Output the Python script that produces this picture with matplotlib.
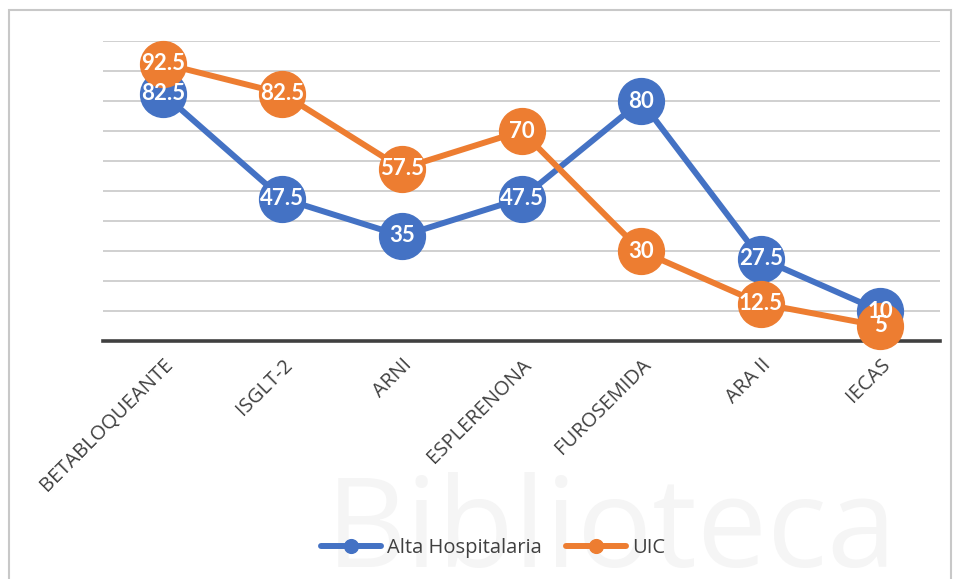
import matplotlib.pyplot as plt
from matplotlib.patches import Rectangle

categories = ['BETABLOQUEANTE', 'ISGLT-2', 'ARNI', 'ESPLERENONA', 'FUROSEMIDA', 'ARA II', 'IECAS']
alta = [82.5, 47.5, 35, 47.5, 80, 27.5, 10]
uic = [92.5, 82.5, 57.5, 70, 30, 12.5, 5]

blue = '#4472C4'
orange = '#ED7D31'

fig = plt.figure(figsize=(9.56, 5.79), dpi=100)
W, H = 956, 579

# outer chart border
fig.patches.append(Rectangle((9 / W, -0.01), (951 - 9) / W, 1 - 10 / H + 0.01,
                             transform=fig.transFigure, fill=False,
                             edgecolor='#c8c8c8', linewidth=1.5, zorder=0))

# faint watermark behind the chart
fig.text(612 / W, 1 - 535 / H, 'Biblioteca', fontsize=90, color='#f5f5f5',
         ha='center', va='center', family='Open Sans', zorder=0)

ax = fig.add_axes([103 / W, 1 - 341 / H, (940 - 103) / W, 300 / H])
ax.patch.set_alpha(0)
x = range(len(categories))

ax.plot(x, alta, color=blue, lw=4.3, marker='o', ms=33, clip_on=False,
        zorder=3, label='Alta Hospitalaria', solid_capstyle='round')
ax.plot(x, uic, color=orange, lw=4.3, marker='o', ms=33, clip_on=False,
        zorder=4, label='UIC', solid_capstyle='round')

for xi, v in zip(x, alta):
    ax.text(xi, v, f'{v:g}', color='white', fontsize=16, fontweight='bold',
            ha='center', va='center', family='Lato', zorder=6)
for xi, v in zip(x, uic):
    ax.text(xi, v, f'{v:g}', color='white', fontsize=16, fontweight='bold',
            ha='center', va='center', family='Lato', zorder=6)

ax.set_xlim(-0.5, len(categories) - 0.5)
ax.set_ylim(0, 100)
ax.set_yticks(range(0, 101, 10))
ax.set_yticklabels([])
ax.tick_params(axis='y', length=0)
ax.grid(axis='y', color='#d0d0d0', lw=1.4)
ax.set_axisbelow(True)
for s in ['top', 'right', 'left']:
    ax.spines[s].set_visible(False)
ax.spines['bottom'].set_color('#404040')
ax.spines['bottom'].set_linewidth(2.6)
ax.spines['bottom'].set_zorder(2)

ax.set_xticks(list(x))
ax.set_xticklabels(categories, rotation=45, ha='right', rotation_mode='anchor',
                   fontsize=14.5, color='#404040', family='Open Sans')
ax.tick_params(axis='x', length=0, pad=10)

leg = fig.legend(loc='center', bbox_to_anchor=(493 / W, 1 - 548 / H), ncol=2,
                 frameon=False, prop={'family': 'Open Sans', 'size': 14.5},
                 markerscale=0.3, handlelength=3.0, columnspacing=1.2,
                 handletextpad=0.3)
for t in leg.get_texts():
    t.set_color('#404040')

fig.savefig('out.png', dpi=100)
